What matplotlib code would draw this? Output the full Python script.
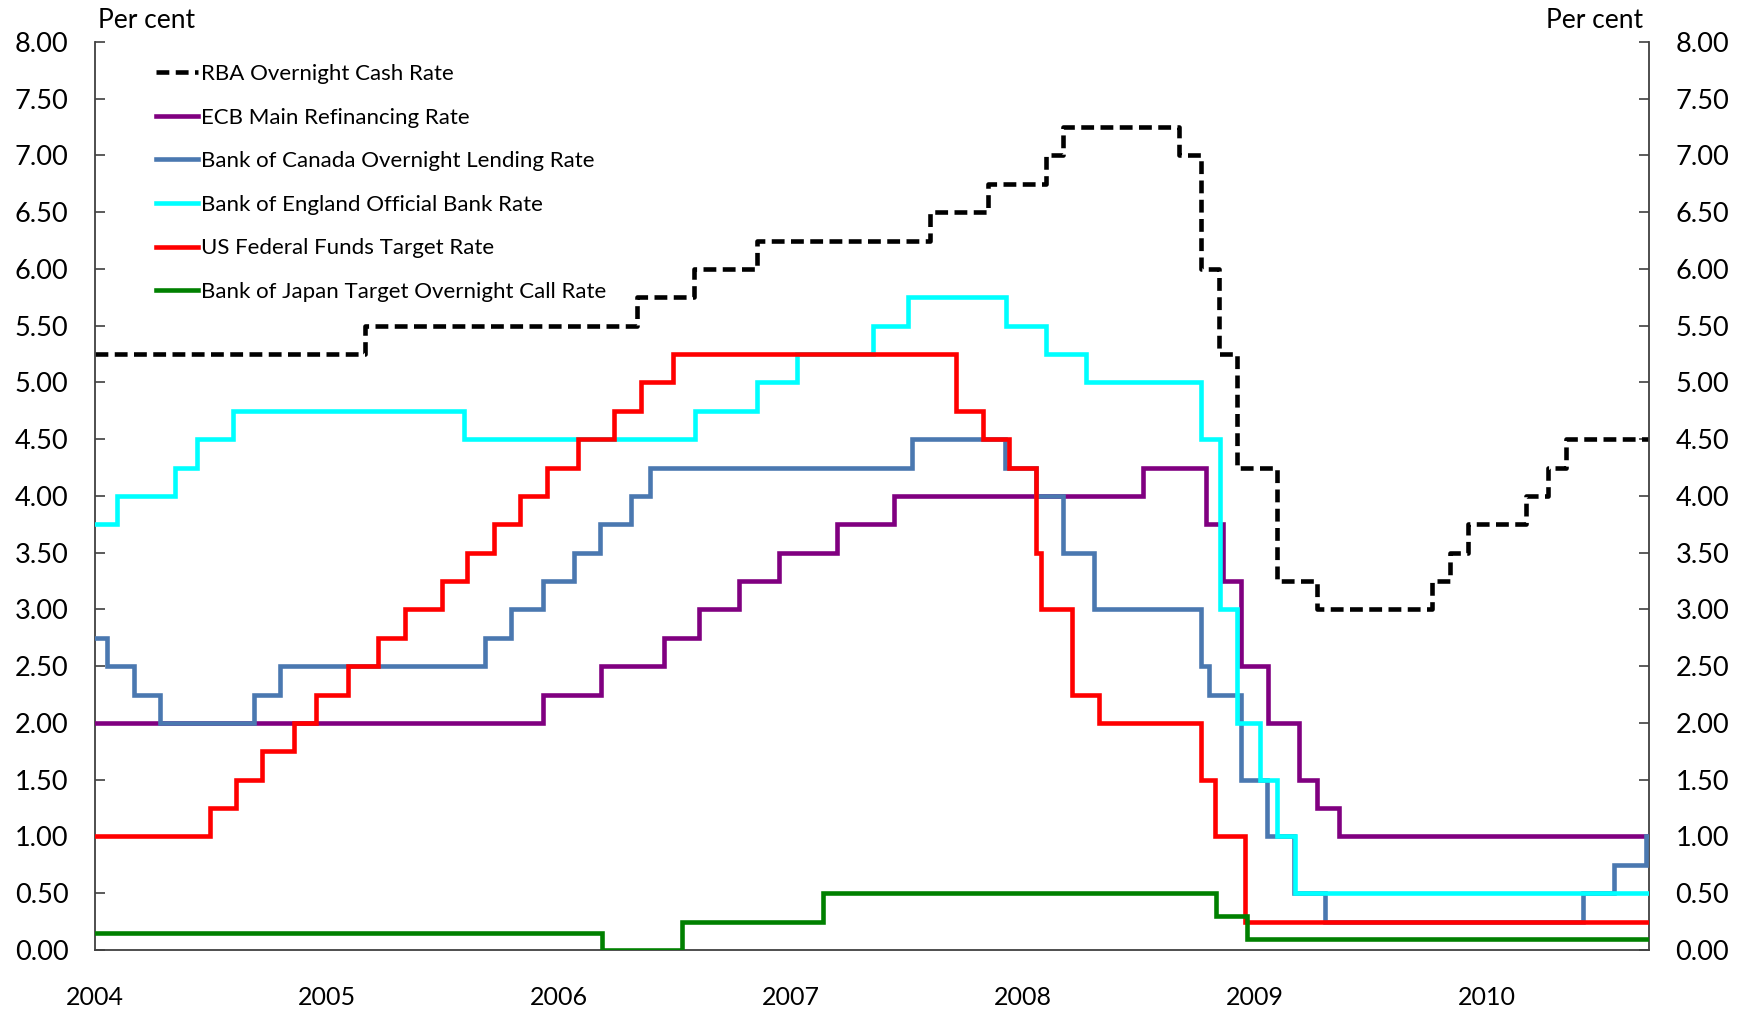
import datetime as dt
import matplotlib
matplotlib.use('Agg')
import matplotlib.pyplot as plt
import matplotlib.dates as mdates

plt.rcParams['font.family'] = ['Lato', 'DejaVu Sans']

END = '2010-09-13'

# change dates and new rate (per cent)
rba_dates = ['2004-01-01', '2005-03-02', '2006-05-03', '2006-08-02', '2006-11-08',
             '2007-08-08', '2007-11-07', '2008-02-06', '2008-03-05', '2008-09-03',
             '2008-10-08', '2008-11-05', '2008-12-03', '2009-02-04', '2009-04-08',
             '2009-10-07', '2009-11-04', '2009-12-02', '2010-03-03', '2010-04-07',
             '2010-05-05']
rba_rates = [5.25, 5.50, 5.75, 6.00, 6.25, 6.50, 6.75, 7.00, 7.25, 7.00,
             6.00, 5.25, 4.25, 3.25, 3.00, 3.25, 3.50, 3.75, 4.00, 4.25, 4.50]

ecb_dates = ['2004-01-01', '2005-12-06', '2006-03-08', '2006-06-15', '2006-08-09',
             '2006-10-11', '2006-12-13', '2007-03-14', '2007-06-13', '2008-07-09',
             '2008-10-15', '2008-11-12', '2008-12-10', '2009-01-21', '2009-03-11',
             '2009-04-08', '2009-05-13']
ecb_rates = [2.00, 2.25, 2.50, 2.75, 3.00, 3.25, 3.50, 3.75, 4.00, 4.25,
             3.75, 3.25, 2.50, 2.00, 1.50, 1.25, 1.00]

boc_dates = ['2004-01-01', '2004-01-20', '2004-03-02', '2004-04-13', '2004-09-08',
             '2004-10-19', '2005-09-07', '2005-10-18', '2005-12-06', '2006-01-24',
             '2006-03-07', '2006-04-25', '2006-05-24', '2007-07-10', '2007-12-04',
             '2008-01-22', '2008-03-04', '2008-04-22', '2008-10-08', '2008-10-21',
             '2008-12-09', '2009-01-20', '2009-03-03', '2009-04-21', '2010-06-01',
             '2010-07-20', '2010-09-08']
boc_rates = [2.75, 2.50, 2.25, 2.00, 2.25, 2.50, 2.75, 3.00, 3.25, 3.50,
             3.75, 4.00, 4.25, 4.50, 4.25, 4.00, 3.50, 3.00, 2.50, 2.25,
             1.50, 1.00, 0.50, 0.25, 0.50, 0.75, 1.00]

boe_dates = ['2004-01-01', '2004-02-05', '2004-05-06', '2004-06-10', '2004-08-05',
             '2005-08-04', '2006-08-03', '2006-11-09', '2007-01-11', '2007-05-10',
             '2007-07-05', '2007-12-06', '2008-02-07', '2008-04-10', '2008-10-08',
             '2008-11-06', '2008-12-04', '2009-01-08', '2009-02-05', '2009-03-05']
boe_rates = [3.75, 4.00, 4.25, 4.50, 4.75, 4.50, 4.75, 5.00, 5.25, 5.50,
             5.75, 5.50, 5.25, 5.00, 4.50, 3.00, 2.00, 1.50, 1.00, 0.50]

fed_dates = ['2004-01-01', '2004-06-30', '2004-08-10', '2004-09-21', '2004-11-10',
             '2004-12-14', '2005-02-02', '2005-03-22', '2005-05-03', '2005-06-30',
             '2005-08-09', '2005-09-20', '2005-11-01', '2005-12-13', '2006-01-31',
             '2006-03-28', '2006-05-10', '2006-06-29', '2007-09-18', '2007-10-31',
             '2007-12-11', '2008-01-22', '2008-01-30', '2008-03-18', '2008-04-30',
             '2008-10-08', '2008-10-29', '2008-12-16']
fed_rates = [1.00, 1.25, 1.50, 1.75, 2.00, 2.25, 2.50, 2.75, 3.00, 3.25,
             3.50, 3.75, 4.00, 4.25, 4.50, 4.75, 5.00, 5.25, 4.75, 4.50,
             4.25, 3.50, 3.00, 2.25, 2.00, 1.50, 1.00, 0.25]

boj_dates = ['2004-01-01', '2006-03-09', '2006-07-14', '2007-02-21', '2008-10-31',
             '2008-12-19']
boj_rates = [0.15, 0.00, 0.25, 0.50, 0.30, 0.10]

series = [
    ('RBA Overnight Cash Rate', rba_dates, rba_rates, 'black', (0, (2.8, 1.4))),
    ('ECB Main Refinancing Rate', ecb_dates, ecb_rates, '#800080', '-'),
    ('Bank of Canada Overnight Lending Rate', boc_dates, boc_rates, '#4a78b0', '-'),
    ('Bank of England Official Bank Rate', boe_dates, boe_rates, '#00ffff', '-'),
    ('US Federal Funds Target Rate', fed_dates, fed_rates, '#ff0000', '-'),
    ('Bank of Japan Target Overnight Call Rate', boj_dates, boj_rates, '#008000', '-'),
]

fig = plt.figure(figsize=(17.49, 10.17), dpi=100)
ax = fig.add_axes([0.0542, 0.0659, 0.8886, 0.8928])

for i, (name, d, r, c, ls) in enumerate(series):
    x = [dt.datetime.strptime(s, '%Y-%m-%d') for s in d] + [dt.datetime.strptime(END, '%Y-%m-%d')]
    y = list(r) + [r[-1]]
    ax.plot(x, y, drawstyle='steps-post', color=c, lw=3.3, ls=ls, label=name,
            zorder=2 + i, solid_joinstyle='miter')

ax.set_xlim(dt.datetime(2004, 1, 1), dt.datetime.strptime(END, '%Y-%m-%d'))
ax.set_ylim(0, 8)
ax.set_yticks([i * 0.5 for i in range(17)])
ax.yaxis.set_major_formatter(matplotlib.ticker.FormatStrFormatter('%.2f'))
ax.xaxis.set_major_locator(mdates.YearLocator())
ax.xaxis.set_major_formatter(mdates.DateFormatter('%Y'))

ax.spines['top'].set_visible(False)
for s in ['left', 'right', 'bottom']:
    ax.spines[s].set_color('#404040')
    ax.spines[s].set_linewidth(1.3)

ax.tick_params(axis='y', which='both', direction='in', length=7, width=1.2,
               color='#404040', labelsize=19.5, left=True, right=True,
               labelleft=True, labelright=True, pad=19)
ax.tick_params(axis='x', length=0, labelsize=18, pad=26)

fig.text(0.056, 0.968, 'Per cent', fontsize=19, ha='left', va='bottom')
fig.text(0.9394, 0.968, 'Per cent', fontsize=19, ha='right', va='bottom')

leg = ax.legend(loc='upper left', bbox_to_anchor=(0.089, 0.937), bbox_transform=fig.transFigure,
                frameon=False, fontsize=16, handlelength=1.9, handletextpad=0.15,
                labelspacing=1.06, borderpad=0, borderaxespad=0)

fig.savefig('out.png', dpi=100)
